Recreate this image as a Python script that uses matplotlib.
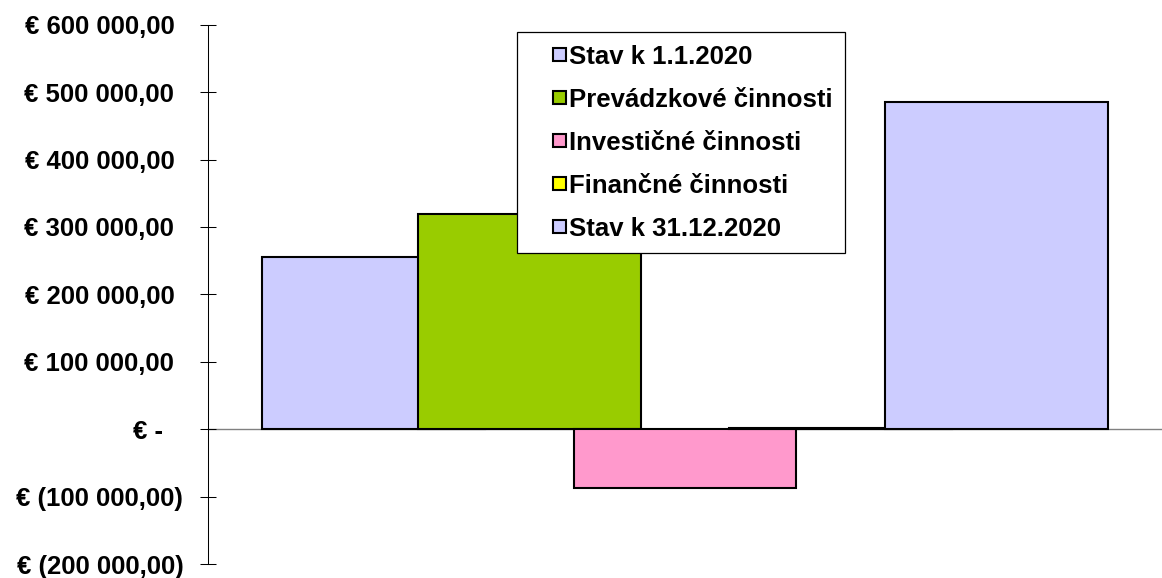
import matplotlib.pyplot as plt
from matplotlib.patches import Patch, Rectangle
from matplotlib.legend_handler import HandlerPatch
from matplotlib.transforms import ScaledTranslation

plt.rcParams['font.family'] = ['Liberation Sans', 'DejaVu Sans']
plt.rcParams['font.weight'] = 'bold'

series = ["Stav k 1.1.2020", "Prevádzkové činnosti", "Investičné činnosti",
          "Finančné činnosti", "Stav k 31.12.2020"]
values = [256000, 319300, -87500, 1500, 485800]
colors = ["#CCCCFF", "#99CC00", "#FF99CC", "#FFFF00", "#CCCCFF"]
yticks = [-200000, -100000, 0, 100000, 200000, 300000, 400000, 500000, 600000]


def eur(v):
    s = f"{abs(v):,.2f}".replace(",", " ").replace(".", ",")
    if v < 0:
        return "€ (" + s + ")"
    if v == 0:
        return "€ -"
    return "€ " + s


fig = plt.figure(figsize=(11.62, 5.78), dpi=100)
ax = fig.add_axes([0.179, 0.0239, 0.821, 0.9334])

# single category, bars overlap like the excel chart
width = 0.4675
step = 0.327
n = len(values)
for i, (v, c) in enumerate(zip(values, colors)):
    x = (i - (n - 1) / 2) * step
    ax.bar(x, v, width=width, color=c, edgecolor="black", linewidth=1.5, label=series[i])

ax.set_xlim(-1, 1)
ax.set_ylim(-200000, 600000)
ax.set_xticks([])
ax.set_yticks(yticks)
ax.set_yticklabels([eur(v) for v in yticks], fontsize=18.5, fontweight="bold")
ax.tick_params(axis="y", direction="inout", length=11.5, width=0.75, pad=12)

# accounting format alignment: positives leave room for ")"
for v, lab in zip(yticks, ax.get_yticklabels()):
    if v > 0:
        dx = -6.5
    elif v == 0:
        dx = -14.4
    else:
        dx = 0
    lab.set_transform(lab.get_transform() + ScaledTranslation(dx / 72, 0, fig.dpi_scale_trans))

ax.spines["top"].set_visible(False)
ax.spines["right"].set_visible(False)
ax.spines["left"].set_color("black")
ax.spines["left"].set_linewidth(0.75)
ax.spines["bottom"].set_position(("data", 0))
ax.spines["bottom"].set_color("#808080")
ax.spines["bottom"].set_linewidth(1.0)
ax.spines["bottom"].set_zorder(0.5)


def square(legend, orig_handle, xdescent, ydescent, width, height, fontsize):
    s = 0.5 * fontsize
    return Rectangle((width - s - xdescent, (height - s) / 2 - ydescent), s, s)


handles = [Patch(facecolor=c, edgecolor="black", linewidth=1.5, label=s)
           for s, c in zip(series, colors)]
leg = ax.legend(handles=handles, loc="upper left", bbox_to_anchor=(0.324, 0.987),
                borderaxespad=0, fontsize=18.5, frameon=True, fancybox=False,
                framealpha=1, edgecolor="black", handlelength=1.4, handleheight=0.5,
                handletextpad=0.12, labelspacing=0.74, borderpad=0.5,
                handler_map={Patch: HandlerPatch(patch_func=square)})
leg.get_frame().set_linewidth(0.9)
for t in leg.get_texts():
    t.set_fontweight("bold")

plt.savefig("out.png", dpi=100)
